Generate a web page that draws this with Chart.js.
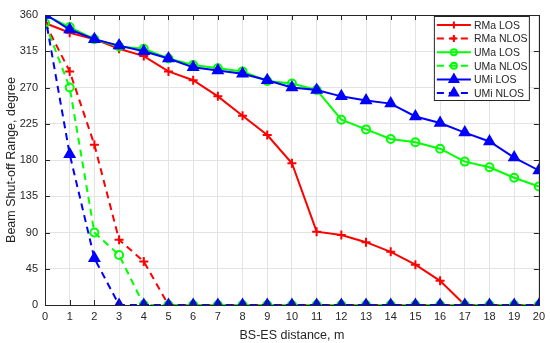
<!DOCTYPE html>
<html>
<head>
<meta charset="utf-8">
<script src="https://cdn.jsdelivr.net/npm/chart.js@4.4.1/dist/chart.umd.min.js"></script>
<style>
  html, body { margin: 0; padding: 0; background: #fff; }
  #wrap { width: 550px; height: 343px; }
</style>
</head>
<body>
<div id="wrap"><canvas id="myChart"></canvas></div>
<script>
// khoảng cách BS-ES (m)
const distance = [0,1,2,3,4,5,6,7,8,9,10,11,12,13,14,15,16,17,18,19,20]

// góc tắt beam (degree)
const rmaLos  = [350,338,330,318,309,290,279,259,235,211,176,91,87,78,66,50,30,0,0,0,0]
const rmaNlos = [350,290,199,81,54,0,0,0,0,0,0,0,0,0,0,0,0,0,0,0,0]
const umaLos  = [360,345,330,321,318,306,298,294,290,278,275,267,230,218,206,202,194,178,171,158,147]
const umaNlos = [350,270,90,62,0,0,0,0,0,0,0,0,0,0,0,0,0,0,0,0,0]
const umiLos  = [361,342,330,322,315,306,295,291,287,279,270,267,259,254,250,234,226,214,203,183,167]
const umiNlos = [360,187,58,0,0,0,0,0,0,0,0,0,0,0,0,0,0,0,0,0,0]

const seriesNames = ["RMa LOS","RMa NLOS","UMa LOS","UMa NLOS","UMi LOS","UMi NLOS"]
const yTicks = [0,45,90,135,180,225,270,315,360]

const RED = "#ff0000", GREEN = "#00ff00", BLUE = "#0000ff"
const DASH = [7,5]
const FONT = "'Liberation Sans', Arial, sans-serif"
const AXIS = "#262626"

function pts(arr){
  return arr.map((v,i) => ({x: distance[i], y: v}))
}

function mkSet(label, values, color, dashed, style, radius, legR, fill, order){
  return {
    label: label,
    data: pts(values),
    borderColor: color,
    backgroundColor: color,
    borderWidth: 2,
    borderDash: dashed ? DASH : [],
    pointStyle: style,
    pointRadius: radius,
    legendRadius: legR,
    pointBorderWidth: 2,
    pointBorderColor: color,
    pointBackgroundColor: fill ? color : "rgba(0,0,0,0)",
    tension: 0,
    order: order
  }
}

const datasets = [
  mkSet(seriesNames[0], rmaLos,  RED,   false, "cross",    4.5, 3.5, false, 6),
  mkSet(seriesNames[1], rmaNlos, RED,   true,  "cross",    4.5, 3.5, false, 5),
  mkSet(seriesNames[2], umaLos,  GREEN, false, "circle",   4,   3,   false, 4),
  mkSet(seriesNames[3], umaNlos, GREEN, true,  "circle",   4,   3,   false, 3),
  mkSet(seriesNames[4], umiLos,  BLUE,  false, "triangle", 5.5, 5,   true,  2),
  mkSet(seriesNames[5], umiNlos, BLUE,  true,  "triangle", 5.5, 5,   true,  1)
]

// khung + vạch chia kiểu MATLAB
const framePlugin = {
  id: "frame",
  afterDatasetsDraw(chart){
    const ctx = chart.ctx
    const a = chart.chartArea
    const xs = chart.scales.x, ys = chart.scales.y
    ctx.save()
    ctx.strokeStyle = AXIS
    ctx.lineWidth = 1
    ctx.beginPath()
    distance.forEach(d => {
      const px = Math.round(xs.getPixelForValue(d)) + 0.5
      ctx.moveTo(px, a.bottom); ctx.lineTo(px, a.bottom - 5)
      ctx.moveTo(px, a.top); ctx.lineTo(px, a.top + 5)
    })
    yTicks.forEach(t => {
      const py = Math.round(ys.getPixelForValue(t)) + 0.5
      ctx.moveTo(a.left, py); ctx.lineTo(a.left + 5, py)
      ctx.moveTo(a.right, py); ctx.lineTo(a.right - 5, py)
    })
    ctx.stroke()
    ctx.strokeRect(Math.round(a.left) + 0.5, Math.round(a.top) + 0.5,
                   Math.round(a.right - a.left), Math.round(a.bottom - a.top))
    ctx.restore()
  }
}

// chú thích nằm trong vùng vẽ
const legendPlugin = {
  id: "legendInside",
  afterDraw(chart){
    const ctx = chart.ctx
    const a = chart.chartArea
    const w = 95, h = 84
    const x0 = a.right - w - 10, y0 = a.top + 1
    ctx.save()
    ctx.fillStyle = "#fff"
    ctx.fillRect(x0, y0, w, h)
    ctx.strokeStyle = AXIS
    ctx.lineWidth = 1
    ctx.strokeRect(x0 + 0.5, y0 + 0.5, w, h)
    ctx.font = "10.5px " + FONT
    ctx.textBaseline = "middle"
    datasets.forEach((ds, i) => {
      const cy = y0 + 9 + i * 13.6
      ctx.strokeStyle = ds.borderColor
      ctx.lineWidth = 2
      ctx.setLineDash(ds.borderDash)
      ctx.beginPath()
      ctx.moveTo(x0 + 3, cy); ctx.lineTo(x0 + 37, cy)
      ctx.stroke()
      ctx.setLineDash([])
      ctx.fillStyle = ds.pointBackgroundColor
      ctx.strokeStyle = ds.borderColor
      ctx.lineWidth = 2
      Chart.helpers.drawPoint(ctx, {pointStyle: ds.pointStyle, radius: ds.legendRadius, borderWidth: 2, rotation: 0}, x0 + 20, cy)
      ctx.fillStyle = AXIS
      ctx.fillText(ds.label, x0 + 40, cy + 1)
    })
    ctx.restore()
  }
}

const myChart = new Chart("myChart", {
  type: "line",
  data: { datasets: datasets },
  options: {
    responsive: true,
    maintainAspectRatio: false,
    animation: false,
    layout: { padding: { top: 15, right: 9, left: 0, bottom: 0 } },
    plugins: { legend: { display: false }, tooltip: { enabled: false } },
    scales: {
      x: {
        type: "linear",
        min: 0, max: 20,
        afterFit: s => { s.height = 38 },
        ticks: { stepSize: 1, color: AXIS, font: { family: FONT, size: 11 }, padding: 5, maxRotation: 0 },
        grid: { color: "#e3e3e3", drawTicks: false },
        border: { display: false },
        title: { display: true, text: "BS-ES distance, m", color: AXIS, font: { family: FONT, size: 12.5 }, padding: { top: 1, bottom: 0 } }
      },
      y: {
        min: 0, max: 360,
        afterFit: s => { s.width = 45 },
        afterBuildTicks: s => { s.ticks = yTicks.map(v => ({ value: v })) },
        ticks: { color: AXIS, font: { family: FONT, size: 11 }, padding: 7 },
        grid: { color: "#e3e3e3", drawTicks: false },
        border: { display: false },
        title: { display: true, text: "Beam Shut-off Range, degree", color: AXIS, font: { family: FONT, size: 12.5 }, padding: { top: 4, bottom: 0 } }
      }
    }
  },
  plugins: [framePlugin, legendPlugin]
})
</script>
</body>
</html>
